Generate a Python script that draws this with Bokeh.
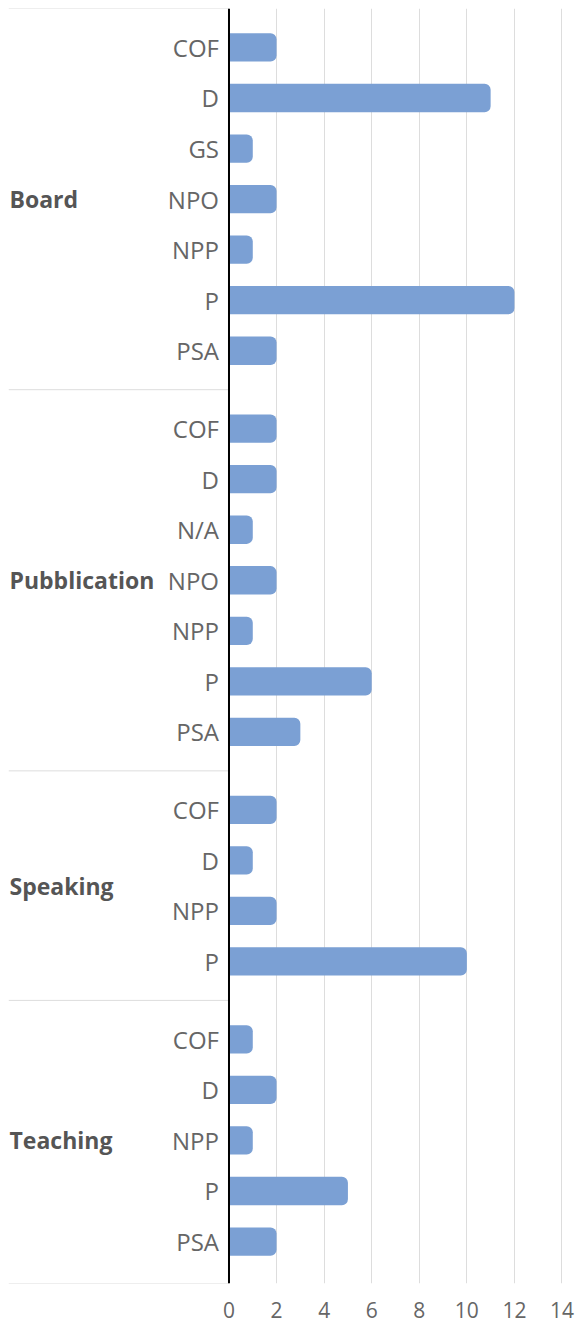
from bokeh.plotting import figure
from bokeh.models import Range1d, FixedTicker, Span
from bokeh.core.properties import value
from bokeh.embed import file_html
from bokeh.resources import INLINE

groups = ["Board", "Pubblication", "Speaking", "Teaching"]
board_cats = ["COF", "D", "GS", "NPO", "NPP", "P", "PSA"]
board_vals = [2, 11, 1, 2, 1, 12, 2]
pub_cats = ["COF", "D", "N/A", "NPO", "NPP", "P", "PSA"]
pub_vals = [2, 2, 1, 2, 1, 6, 3]
speak_cats = ["COF", "D", "NPP", "P"]
speak_vals = [2, 1, 2, 10]
teach_cats = ["COF", "D", "NPP", "P", "PSA"]
teach_vals = [1, 2, 1, 5, 2]
x_ticks = [0, 2, 4, 6, 8, 10, 12, 14]

group_data = [(board_cats, board_vals), (pub_cats, pub_vals),
              (speak_cats, speak_vals), (teach_cats, teach_vals)]

GAP = 0.54
PAD_TOP = 0.77
PAD_BOTTOM = 0.83
ys, cats, vals = [], [], []
group_y, seps = [], [-PAD_TOP]
pos = 0.0
for gi, (cs, vs) in enumerate(group_data):
    start = pos
    for c, v in zip(cs, vs):
        ys.append(pos)
        cats.append(c)
        vals.append(v)
        pos += 1
    end = pos - 1
    group_y.append((start + end) / 2)
    if gi < len(group_data) - 1:
        seps.append(end + (1 + GAP) / 2)
    else:
        seps.append(end + PAD_BOTTOM)
    pos += GAP

XMIN, XMAX = -9.27, 14.61
p = figure(width=576, height=1325,
           x_range=Range1d(XMIN, XMAX), y_range=Range1d(seps[-1], -PAD_TOP),
           output_backend="svg", toolbar_location=None, y_axis_location=None,
           min_border_left=8, min_border_right=0, min_border_top=8,
           min_border_bottom=42)
p.outline_line_color = None
p.background_fill_color = "white"

p.xgrid.ticker = FixedTicker(ticks=x_ticks)
p.xgrid.grid_line_color = "#dddddd"
p.ygrid.visible = False

p.xaxis.ticker = FixedTicker(ticks=x_ticks)
p.xaxis.axis_line_color = None
p.xaxis.major_tick_line_color = None
p.xaxis.minor_tick_line_color = None
p.xaxis.major_label_standoff = 12
p.xaxis.major_label_text_font = "Open Sans"
p.xaxis.major_label_text_font_size = "21px"
p.xaxis.major_label_text_color = "#666666"

p.segment(x0=XMIN, x1=0, y0=seps, y1=seps, line_color="#dddddd", line_width=1)

p.hbar(y=ys, left=0, right=vals, height=0.56, fill_color="#7ba0d4",
       line_color=None, border_radius=(0, 6, 6, 0))

p.add_layout(Span(location=0, dimension="height", line_color="black", line_width=2))

p.text(x=0, y=ys, text=cats, x_offset=-10, text_align="right",
       text_baseline="middle", text_font=value("Open Sans"),
       text_font_size="24px", text_color="#666666")

p.text(x=XMIN, y=group_y, text=groups, x_offset=1, text_align="left",
       text_baseline="middle", text_font=value("Open Sans"),
       text_font_style="bold", text_font_size="23px", text_color="#555555")

open("out.html", "w").write(file_html(p, INLINE))
